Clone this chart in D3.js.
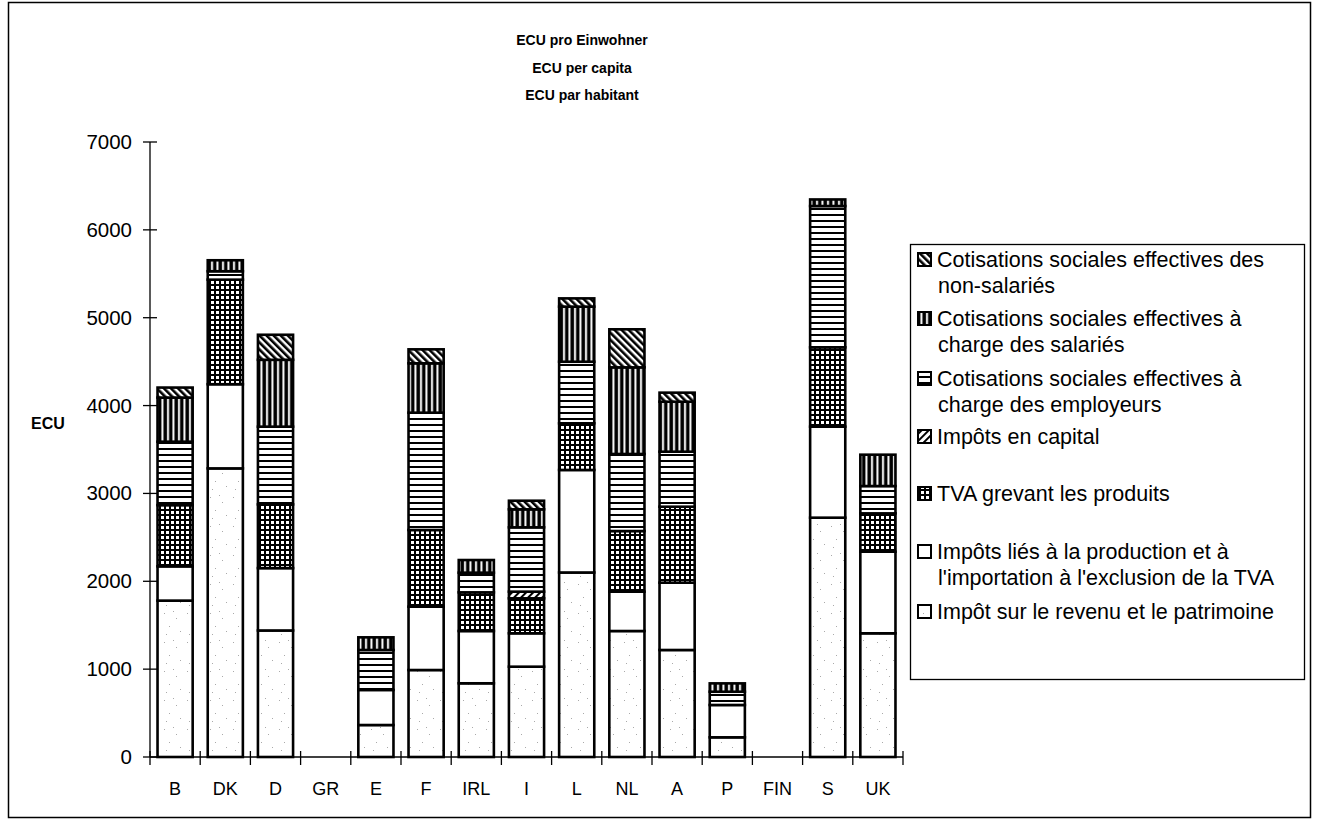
<!DOCTYPE html>
<html>
<head>
<meta charset="utf-8">
<script src="https://cdn.jsdelivr.net/npm/d3@7"></script>
<style>
  html, body { margin: 0; padding: 0; background: #fff; }
  svg { display: block; font-family: "Liberation Sans", Arial, Helvetica, sans-serif; }
</style>
</head>
<body>
<svg id="chart" width="1317" height="825"></svg>
<script>
const categories = ["B","DK","D","GR","E","F","IRL","I","L","NL","A","P","FIN","S","UK"];

const revenu      = [1780, 3285, 1440, 0, 364,  990,  839, 1028, 2100, 1434, 1218, 224, 0, 2724, 1408];
const production  = [ 390,  958,  710, 0, 399,  721,  595,  380, 1167,  448,  766, 368, 0, 1036,  929];
const tva         = [ 697, 1190,  725, 0,   0,  873,  440,  398,  531,  690,  865,   0, 0,  903,  436];
const capital     = [   0,    0,    0, 0,   0,    0,    0,   76,    0,    0,    0,   0, 0,    0,    0];
const employeurs  = [ 722,   96,  885, 0, 455, 1335,  224,  732,  701,  877,  626, 151, 0, 1608,  311];
const salaries    = [ 502,  125,  761, 0, 144,  562,  144,  205,  627,  986,  569,  95, 0,   75,  357];
const nonSalaries = [ 114,    0,  285, 0,   0,  159,    0,   98,   94,  433,  103,   0, 0,    0,    0];

const yTicks = [0, 1000, 2000, 3000, 4000, 5000, 6000, 7000];
const titleLines = ["ECU pro Einwohner", "ECU per capita", "ECU par habitant"];
const yLabel = "ECU";

// series bottom -> top
const seriesNames = [
  "Impôt sur le revenu et le patrimoine",
  "Impôts liés à la production et à l'importation à l'exclusion de la TVA",
  "TVA grevant les produits",
  "Impôts en capital",
  "Cotisations sociales effectives à charge des employeurs",
  "Cotisations sociales effectives à charge des salariés",
  "Cotisations sociales effectives des non-salariés"
];
const seriesValues = [revenu, production, tva, capital, employeurs, salaries, nonSalaries];
const patternIds = ["p-rev","p-prod","p-tva","p-cap","p-emp","p-sal","p-non"];

// legend text lines (top -> bottom)
const legendLines = [
  ["Cotisations sociales effectives des", "non-salariés"],
  ["Cotisations sociales effectives à", "charge des salariés"],
  ["Cotisations sociales effectives à", "charge des employeurs"],
  ["Impôts en capital"],
  ["TVA grevant les produits"],
  ["Impôts liés à la production et à", "l'importation à l'exclusion de la TVA"],
  ["Impôt sur le revenu et le patrimoine"]
];
const legendSeries = [6,5,4,3,2,1,0];
const legendY = [260, 319, 379, 437, 494, 552, 612];

const svg = d3.select("#chart");
const defs = svg.append("defs");

// patterns
(function(){
  const pr = defs.append("pattern").attr("id","p-rev").attr("patternUnits","userSpaceOnUse").attr("width",23).attr("height",29);
  pr.append("rect").attr("width",23).attr("height",29).attr("fill","#fff");
  [[3,4],[15,9],[8,17],[19,22],[5,25],[12,2]].forEach(([cx,cy]) =>
    pr.append("rect").attr("x",cx).attr("y",cy).attr("width",1).attr("height",1).attr("fill","#aaa"));

  const pp = defs.append("pattern").attr("id","p-prod").attr("patternUnits","userSpaceOnUse").attr("width",10).attr("height",10);
  pp.append("rect").attr("width",10).attr("height",10).attr("fill","#fff");

  const pt = defs.append("pattern").attr("id","p-tva").attr("patternUnits","userSpaceOnUse").attr("width",5).attr("height",5);
  pt.append("rect").attr("width",5).attr("height",5).attr("fill","#000");
  pt.append("rect").attr("x",1).attr("y",1).attr("width",3).attr("height",3).attr("fill","#fff");

  const pc = defs.append("pattern").attr("id","p-cap").attr("patternUnits","userSpaceOnUse").attr("width",5).attr("height",5)
    .attr("patternTransform","rotate(45)");
  pc.append("rect").attr("width",5).attr("height",5).attr("fill","#fff");
  pc.append("rect").attr("width",2).attr("height",5).attr("fill","#000");

  const pe = defs.append("pattern").attr("id","p-emp").attr("patternUnits","userSpaceOnUse").attr("width",6).attr("height",6);
  pe.append("rect").attr("width",6).attr("height",6).attr("fill","#fff");
  pe.append("rect").attr("y",4).attr("width",6).attr("height",2).attr("fill","#000");

  const ps = defs.append("pattern").attr("id","p-sal").attr("patternUnits","userSpaceOnUse").attr("width",5.5).attr("height",6);
  ps.append("rect").attr("width",5.5).attr("height",6).attr("fill","#000");
  ps.append("rect").attr("x",2).attr("width",2).attr("height",6).attr("fill","#fff");

  const pn = defs.append("pattern").attr("id","p-non").attr("patternUnits","userSpaceOnUse").attr("width",5).attr("height",5)
    .attr("patternTransform","rotate(-45)");
  pn.append("rect").attr("width",5).attr("height",5).attr("fill","#fff");
  pn.append("rect").attr("width",2.6).attr("height",5).attr("fill","#000");
})();

// outer frame
svg.append("rect").attr("x",8.5).attr("y",2.5).attr("width",1302).attr("height",815)
  .attr("fill","none").attr("stroke","#000").attr("stroke-width",1.5);

const x = d3.scaleBand().domain(categories).range([150, 903]).paddingInner(0.3).paddingOuter(0.15);
const y = d3.scaleLinear().domain([0, 7000]).range([757, 142]);

// title
const title = svg.append("g").attr("font-weight","bold").attr("font-size",14).attr("text-anchor","middle");
titleLines.forEach((t,i) => title.append("text").attr("x",582).attr("y",45 + i*27.5).text(t));

// y label
svg.append("text").attr("x",48).attr("y",429).attr("text-anchor","middle")
  .attr("font-weight","bold").attr("font-size",16).text(yLabel);

// stacked bars
const stackData = categories.map((c,i) => {
  const o = {cat: c};
  seriesValues.forEach((arr,k) => o["s"+k] = arr[i]);
  return o;
});
const stack = d3.stack().keys(seriesValues.map((_,k) => "s"+k));
const layers = stack(stackData);

const barsG = svg.append("g");
layers.forEach((layer,k) => {
  barsG.selectAll(null)
    .data(layer.filter(d => d[1] - d[0] > 0))
    .enter().append("rect")
    .attr("x", d => x(d.data.cat))
    .attr("width", x.bandwidth())
    .attr("y", d => y(d[1]))
    .attr("height", d => y(d[0]) - y(d[1]))
    .attr("fill", `url(#${patternIds[k]})`)
    .attr("stroke","#000")
    .attr("stroke-width",2.6);
});

// axes
const axG = svg.append("g").attr("stroke","#000").attr("stroke-width",1.3);
axG.append("line").attr("x1",150).attr("x2",150).attr("y1",y(7000)).attr("y2",y(0));
axG.append("line").attr("x1",150).attr("x2",903).attr("y1",y(0)).attr("y2",y(0));
yTicks.forEach(v => axG.append("line").attr("x1",143).attr("x2",157).attr("y1",y(v)).attr("y2",y(v)));
const step = x.step();
const bounds = categories.map(c => x(c) - step*0.15).concat([x.range()[1]]);
bounds.forEach(b => axG.append("line").attr("x1",b).attr("x2",b).attr("y1",y(0)-6).attr("y2",y(0)+8));

svg.append("g").attr("font-size",20.5).attr("text-anchor","end")
  .selectAll("text").data(yTicks).enter().append("text")
  .attr("x",132).attr("y", d => y(d) + 7).text(d => d);

svg.append("g").attr("font-size",18).attr("text-anchor","middle")
  .selectAll("text").data(categories).enter().append("text")
  .attr("x", d => x(d) + x.bandwidth()/2).attr("y", 795).text(d => d);

// legend
svg.append("rect").attr("x",910.5).attr("y",244.5).attr("width",394).attr("height",435)
  .attr("fill","#fff").attr("stroke","#000").attr("stroke-width",1.3);
const lg = svg.append("g").attr("font-size",21.5);
legendLines.forEach((lines,i) => {
  const k = legendSeries[i];
  const cy = legendY[i];
  lg.append("rect").attr("x",918).attr("y",cy-7).attr("width",13).attr("height",13)
    .attr("fill",`url(#${patternIds[k]})`).attr("stroke","#000").attr("stroke-width",2);
  lines.forEach((t,j) => lg.append("text").attr("x",937 + (j>0?1:0)).attr("y",cy + 7 + j*26).text(t));
});
</script>
</body>
</html>
